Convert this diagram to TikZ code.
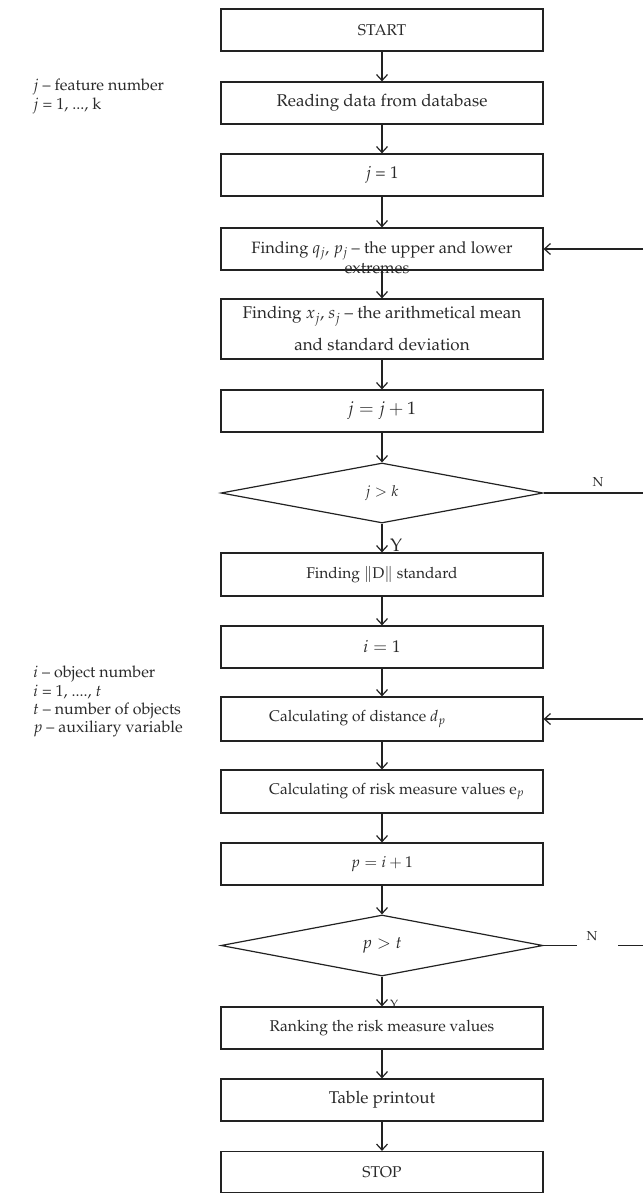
\documentclass[tikz,border=0pt]{standalone}
\usepackage[T1]{fontenc}
\usepackage{mathpazo}
\usetikzlibrary{arrows.meta,shapes.geometric}
\definecolor{ln}{HTML}{222222}
\definecolor{tx}{HTML}{2a2a2a}
\newcommand\myfs[2]{\fontsize{#1pt}{#2pt}\selectfont}
\tikzset{
  box/.style={draw=ln, line width=1.2pt, fill=white, minimum width=322pt,
    minimum height=42pt, inner sep=0pt, text=tx, font=\myfs{17}{20}},
  dec/.style={diamond, draw=ln, line width=1.2pt, fill=white, minimum width=322pt,
    minimum height=60pt, inner sep=0pt, text=tx},
  arr/.style={draw=ln, line width=1.2pt, -{Straight Barb[length=6pt,width=11pt,line width=1.2pt]}},
  flow/.style={draw=ln, line width=1.2pt},
  note/.style={anchor=base west, text=tx, inner sep=0pt, font=\myfs{16}{19}},
  lbl/.style={text=tx, inner sep=0pt}
}
\begin{document}
\begin{tikzpicture}[x=1pt, y=-1pt]
\useasboundingbox (0,0) rectangle (643,1193);

% left notes
\node[note] (n1) at (33,91) {$j$ -- feature number};
\node[note] (n2) at (33,110) {$j$ = 1, ..., k};
\node[note] (n3) at (33,677) {$i$ -- object number};
\node[note] (n4) at (33,696) {$i$ = 1, ...., $t$};
\node[note] (n5) at (33,714) {$t$ -- number of objects};
\node[note] (n6) at (33,732) {$p$ -- auxiliary variable};

% main column
\node[box, font=\myfs{15.6}{18}] (start) at (382,30) {START};
\node[box] (read) at (382,103) {Reading data from database};
\node[box] (j1) at (382,175) {$j$ = 1};
\node[box] (fq) at (382,249) {};
\node[lbl, anchor=base, font=\myfs{16.4}{19}] (fqa) at (382,253) {Finding $q_j$, $p_j$ -- the upper and lower};
\node[lbl, anchor=base, font=\myfs{16.4}{19}] (fqb) at (377,273) {extremes};
\node[box, minimum height=60pt, align=center, font=\myfs{17}{32}] (fx) at (382,329)
  {Finding $x_j$, $s_j$ -- the arithmetical mean\\and standard deviation};
\node[box, font=\myfs{18}{21}] (jinc) at (382,411) {$j = j + 1$};
\node[dec, font=\myfs{15}{18}] (d1) at (382,493) {$j > k$};
\node[lbl, anchor=base west, font=\myfs{18}{20}] (y1) at (390,551) {Y};
\node[box, minimum height=43pt, font=\myfs{15.5}{18}] (fD) at (382,574.5) {Finding $\|\mathrm{D}\|$ standard};
\node[box, font=\myfs{17}{20}] (i1) at (382,647) {$i = 1$};
\node[box, minimum height=44pt] (cd) at (382,719) {};
\node[lbl, anchor=west, font=\myfs{15.5}{18}] (cdt) at (269,719) {Calculating of distance $d_p$};
\node[box, minimum height=43pt] (cr) at (382,791.5) {};
\node[lbl, anchor=west, font=\myfs{15.5}{18}] (crt) at (269,791.5) {Calculating of risk measure values e$_p$};
\node[box, font=\myfs{15.5}{18}] (pinc) at (382,864) {$p = i + 1$};
\node[dec, minimum height=61pt, font=\myfs{17}{20}] (d2) at (382,945.5) {$p > t$};
\node[lbl, anchor=base west, font=\myfs{12}{14}] (y2) at (390,1008) {Y};
\node[box, font=\myfs{15.6}{18}] (rank) at (382,1028) {Ranking the risk measure values};
\node[box] (table) at (382,1100) {Table printout};
\node[box, minimum height=41pt, font=\myfs{15.6}{18}] (stop) at (382,1172) {STOP};

% arrows
\draw[arr] (start) -- (read);
\draw[arr] (read) -- (j1);
\draw[arr] (j1) -- (fq);
\draw[arr] (fq) -- (fx);
\draw[arr] (fx) -- (jinc);
\draw[arr] (jinc) -- (d1);
\draw[arr] (d1) -- (fD);
\draw[arr] (fD) -- (i1);
\draw[arr] (i1) -- (cd);
\draw[arr] (cd) -- (cr);
\draw[arr] (cr) -- (pinc);
\draw[arr] (pinc) -- (d2);
\draw[arr] (d2) -- (rank);
\draw[arr] (rank) -- (table);
\draw[arr] (table) -- (stop);

% N branches and returns
\coordinate (e1) at (643,493);
\coordinate (g1) at (577,945.5);
\coordinate (g2) at (618,945.5);
\coordinate (e2) at (643,945.5);
\coordinate (r1) at (643,249);
\coordinate (r2) at (643,719);
\draw[flow] (d1.east) -- (e1);
\node[lbl, anchor=base, font=\myfs{13}{15}] (nl1) at (598,486) {N};
\draw[flow] (d2.east) -- (g1);
\draw[flow] (g2) -- (e2);
\node[lbl, anchor=base, font=\myfs{13}{15}] (nl2) at (592,940) {N};
\draw[arr] (r1) -- (fq.east);
\draw[arr] (r2) -- (cd.east);
\end{tikzpicture}
\end{document}
